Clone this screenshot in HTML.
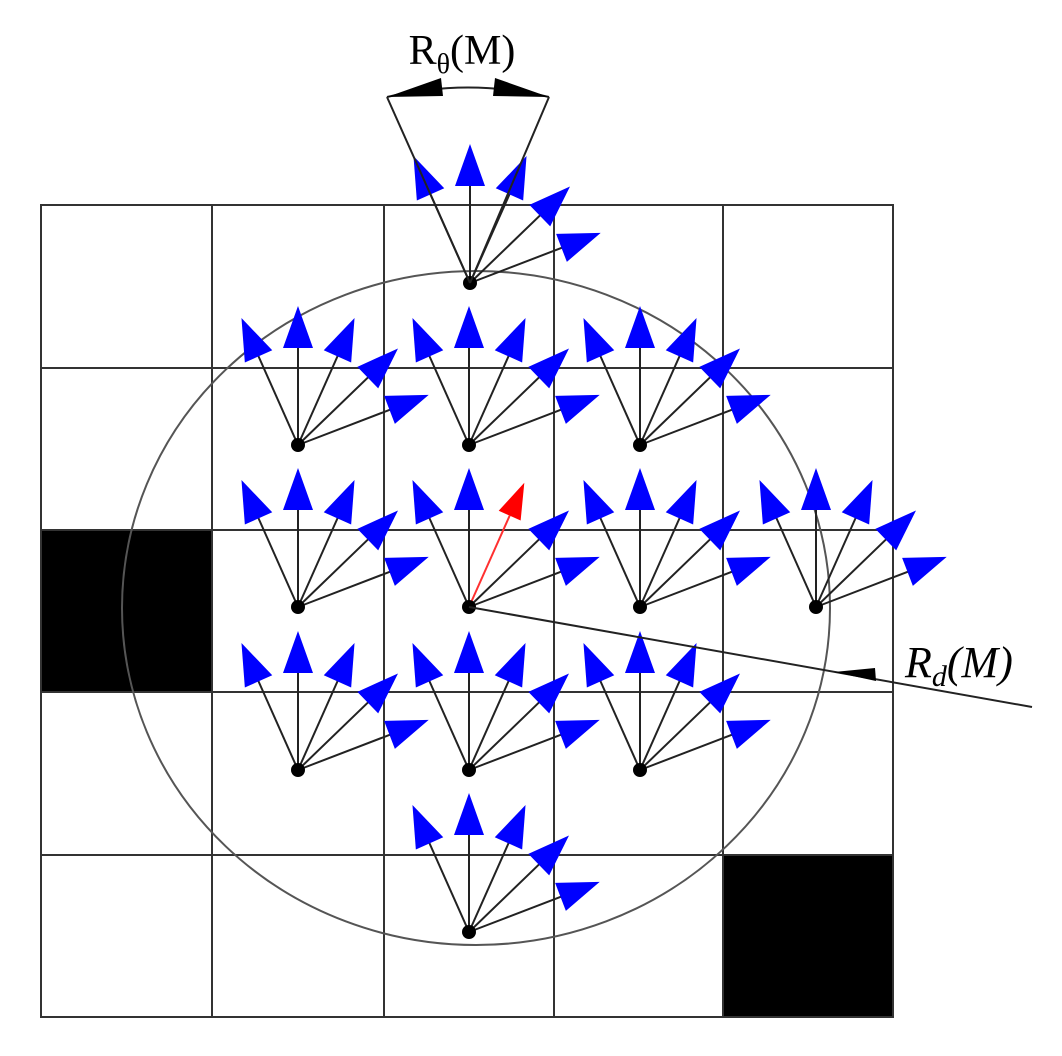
<!DOCTYPE html>
<html><head><style>body{margin:0;background:#fff}svg{display:block}</style></head><body>
<svg width="1062" height="1056" viewBox="0 0 1062 1056" xmlns="http://www.w3.org/2000/svg">
<defs>
<g id="fan">
 <g stroke="#222" stroke-width="2">
  <g transform="rotate(-24)"><line x1="0" y1="0" x2="0" y2="-100"/><polygon points="0,-139 -15,-97 15,-97" fill="#0000ff" stroke="none"/></g>
  <g transform="rotate(0)"><line x1="0" y1="0" x2="0" y2="-100"/><polygon points="0,-139 -15,-97 15,-97" fill="#0000ff" stroke="none"/></g>
  <g transform="rotate(24)"><line x1="0" y1="0" x2="0" y2="-100"/><polygon points="0,-139 -15,-97 15,-97" fill="#0000ff" stroke="none"/></g>
  <g transform="rotate(46)"><line x1="0" y1="0" x2="0" y2="-100"/><polygon points="0,-139 -15,-97 15,-97" fill="#0000ff" stroke="none"/></g>
  <g transform="rotate(69)"><line x1="0" y1="0" x2="0" y2="-100"/><polygon points="0,-140 -15,-98 15,-98" fill="#0000ff" stroke="none"/></g>
 </g>
 <circle r="7" fill="#000"/>
</g>
<g id="fanr">
 <g stroke="#222" stroke-width="2">
  <g transform="rotate(-24)"><line x1="0" y1="0" x2="0" y2="-100"/><polygon points="0,-139 -15,-97 15,-97" fill="#0000ff" stroke="none"/></g>
  <g transform="rotate(0)"><line x1="0" y1="0" x2="0" y2="-100"/><polygon points="0,-139 -15,-97 15,-97" fill="#0000ff" stroke="none"/></g>
  <g transform="rotate(24)"><line x1="0" y1="0" x2="0" y2="-100" stroke="#ff3030"/><polygon points="0,-136 -12,-100 12,-100" fill="#ff0000" stroke="none"/></g>
  <g transform="rotate(46)"><line x1="0" y1="0" x2="0" y2="-100"/><polygon points="0,-139 -15,-97 15,-97" fill="#0000ff" stroke="none"/></g>
  <g transform="rotate(69)"><line x1="0" y1="0" x2="0" y2="-100"/><polygon points="0,-140 -15,-98 15,-98" fill="#0000ff" stroke="none"/></g>
 </g>
 <circle r="7" fill="#000"/>
</g>
</defs>
<rect x="41" y="529" width="172" height="163" fill="#000"/>
<rect x="723" y="855" width="170" height="162" fill="#000"/>
<g stroke="#333" stroke-width="2" fill="none">
 <rect x="41" y="205" width="852" height="812"/>
 <line x1="212" y1="205" x2="212" y2="1017"/>
 <line x1="384" y1="205" x2="384" y2="1017"/>
 <line x1="554" y1="205" x2="554" y2="1017"/>
 <line x1="723" y1="205" x2="723" y2="1017"/>
 <line x1="41" y1="368" x2="893" y2="368"/>
 <line x1="41" y1="530" x2="893" y2="530"/>
 <line x1="41" y1="692" x2="893" y2="692"/>
 <line x1="41" y1="855" x2="893" y2="855"/>
</g>
<ellipse cx="476" cy="608" rx="354" ry="337" fill="none" stroke="#555" stroke-width="2"/>
<use href="#fan" x="470" y="283"/>
<use href="#fan" x="298" y="445"/>
<use href="#fan" x="469" y="445"/>
<use href="#fan" x="640" y="445"/>
<use href="#fan" x="298" y="607"/>
<use href="#fanr" x="469" y="607"/>
<use href="#fan" x="640" y="607"/>
<use href="#fan" x="816" y="607"/>
<use href="#fan" x="298" y="770"/>
<use href="#fan" x="469" y="770"/>
<use href="#fan" x="640" y="770"/>
<use href="#fan" x="469" y="932"/>
<g stroke="#222" stroke-width="2" fill="none">
 <line x1="387" y1="97" x2="470" y2="283"/>
 <line x1="549" y1="97" x2="470" y2="283"/>
 <path d="M387,97 Q468,78 549,97"/>
</g>
<polygon points="387,97 441,78 443,96" fill="#000"/>
<polygon points="549,97 495,78 493,96" fill="#000"/>
<text x="462" y="64" font-family="Liberation Serif, serif" font-size="42" text-anchor="middle">R<tspan font-size="28" dy="9">θ</tspan><tspan dy="-9">(M)</tspan></text>
<line x1="469" y1="607" x2="1032" y2="707" stroke="#222" stroke-width="2"/>
<polygon points="876,681 834,672 875,668" fill="#000"/>
<text x="905" y="677" font-family="Liberation Serif, serif" font-size="44" font-style="italic">R<tspan font-size="30" dy="9">d</tspan><tspan dy="-9">(M)</tspan></text>
</svg>
</body></html>
